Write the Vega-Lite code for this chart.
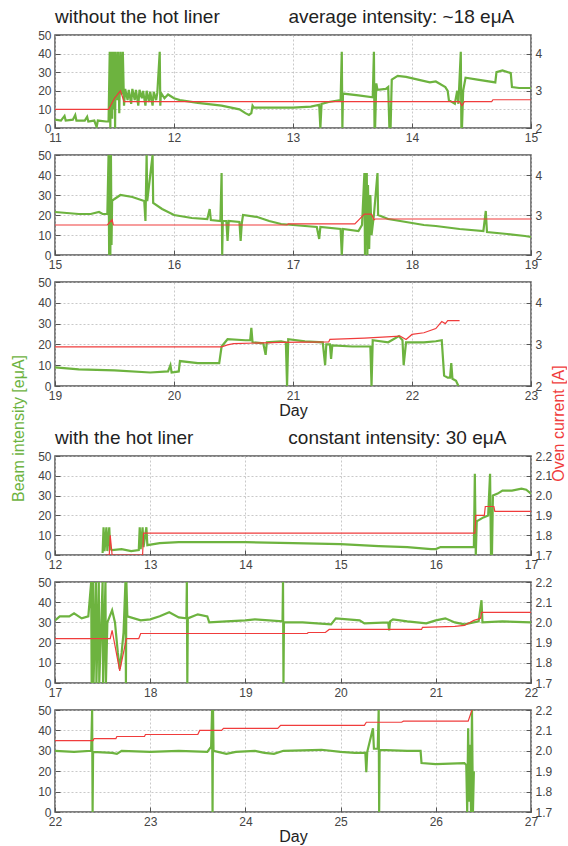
{
  "$schema": "https://vega.github.io/schema/vega-lite/v6.json",
  "padding": {"left": 9, "top": 7, "right": 0, "bottom": 0},
  "spacing": 27,
  "bounds": "flush",
  "datasets": {
    "g1": [{"day":11.0,"v":4.5},{"day":11.05,"v":4},{"day":11.08,"v":6.5},{"day":11.09,"v":4},{"day":11.15,"v":4.5},{"day":11.17,"v":7},{"day":11.18,"v":4},{"day":11.25,"v":4},{"day":11.27,"v":6},{"day":11.28,"v":3.5},{"day":11.33,"v":4},{"day":11.35,"v":0.5},{"day":11.36,"v":4},{"day":11.43,"v":3.5},{"day":11.45,"v":3.5},{"day":11.46,"v":41},{"day":11.465,"v":0},{"day":11.47,"v":41},{"day":11.48,"v":5},{"day":11.485,"v":41},{"day":11.49,"v":10},{"day":11.5,"v":41},{"day":11.505,"v":0},{"day":11.51,"v":41},{"day":11.52,"v":15},{"day":11.53,"v":41},{"day":11.54,"v":8},{"day":11.55,"v":41},{"day":11.56,"v":18},{"day":11.57,"v":41},{"day":11.58,"v":12},{"day":11.59,"v":21},{"day":11.61,"v":15},{"day":11.62,"v":20.5},{"day":11.64,"v":13},{"day":11.65,"v":21},{"day":11.67,"v":15},{"day":11.68,"v":20.5},{"day":11.7,"v":12},{"day":11.71,"v":20.5},{"day":11.73,"v":16},{"day":11.74,"v":20},{"day":11.76,"v":12},{"day":11.77,"v":20},{"day":11.79,"v":14},{"day":11.8,"v":19.5},{"day":11.82,"v":12},{"day":11.83,"v":19.5},{"day":11.85,"v":15},{"day":11.86,"v":19},{"day":11.88,"v":41},{"day":11.885,"v":12},{"day":11.89,"v":19},{"day":11.92,"v":16},{"day":11.95,"v":18},{"day":12.0,"v":16},{"day":12.05,"v":15},{"day":12.2,"v":13.5},{"day":12.4,"v":12},{"day":12.55,"v":10},{"day":12.6,"v":8},{"day":12.63,"v":7},{"day":12.65,"v":8},{"day":12.66,"v":12},{"day":12.67,"v":11},{"day":12.8,"v":11},{"day":13.0,"v":11},{"day":13.15,"v":11.5},{"day":13.22,"v":12.5},{"day":13.23,"v":0},{"day":13.24,"v":13},{"day":13.3,"v":14},{"day":13.4,"v":15},{"day":13.41,"v":41},{"day":13.415,"v":0},{"day":13.42,"v":18.5},{"day":13.55,"v":17.5},{"day":13.67,"v":16.5},{"day":13.68,"v":41},{"day":13.685,"v":0},{"day":13.69,"v":0},{"day":13.7,"v":24},{"day":13.71,"v":20.5},{"day":13.78,"v":21},{"day":13.8,"v":22},{"day":13.81,"v":0},{"day":13.82,"v":0},{"day":13.83,"v":26},{"day":13.88,"v":28},{"day":13.95,"v":27.5},{"day":14.05,"v":26},{"day":14.15,"v":24.5},{"day":14.2,"v":25},{"day":14.28,"v":22},{"day":14.3,"v":20},{"day":14.31,"v":15},{"day":14.36,"v":13},{"day":14.38,"v":20},{"day":14.39,"v":13},{"day":14.41,"v":41},{"day":14.415,"v":0},{"day":14.42,"v":0},{"day":14.43,"v":20},{"day":14.45,"v":27},{"day":14.55,"v":26},{"day":14.7,"v":24.5},{"day":14.71,"v":30},{"day":14.76,"v":31},{"day":14.83,"v":29.5},{"day":14.84,"v":22},{"day":14.9,"v":21.5},{"day":15.0,"v":21.5}],
    "r1": [{"day":11,"v":2.5},{"day":11.45,"v":2.5},{"day":11.5,"v":2.8},{"day":11.55,"v":3.0},{"day":11.58,"v":2.71},{"day":14.4,"v":2.71},{"day":14.42,"v":2.6},{"day":14.44,"v":2.71},{"day":14.67,"v":2.71},{"day":14.68,"v":2.76},{"day":15,"v":2.76}],
    "g2": [{"day":15.0,"v":21.5},{"day":15.1,"v":21},{"day":15.2,"v":20.5},{"day":15.3,"v":20.5},{"day":15.37,"v":21.5},{"day":15.4,"v":20.5},{"day":15.44,"v":20.5},{"day":15.45,"v":50},{"day":15.455,"v":0},{"day":15.46,"v":50},{"day":15.465,"v":0},{"day":15.47,"v":50},{"day":15.475,"v":5},{"day":15.48,"v":27},{"day":15.5,"v":28},{"day":15.55,"v":30},{"day":15.65,"v":29},{"day":15.75,"v":27},{"day":15.76,"v":17},{"day":15.77,"v":50},{"day":15.775,"v":27},{"day":15.82,"v":50},{"day":15.825,"v":26},{"day":15.9,"v":23},{"day":16.0,"v":20},{"day":16.15,"v":18.5},{"day":16.28,"v":18},{"day":16.3,"v":23},{"day":16.31,"v":17.5},{"day":16.39,"v":17},{"day":16.4,"v":41},{"day":16.405,"v":0},{"day":16.41,"v":17},{"day":16.44,"v":17},{"day":16.45,"v":7},{"day":16.46,"v":17},{"day":16.55,"v":16.5},{"day":16.56,"v":7},{"day":16.57,"v":16},{"day":16.58,"v":20},{"day":16.7,"v":19},{"day":16.8,"v":17},{"day":16.9,"v":15.5},{"day":17.0,"v":15},{"day":17.2,"v":14},{"day":17.22,"v":8},{"day":17.23,"v":14},{"day":17.4,"v":13},{"day":17.41,"v":0},{"day":17.42,"v":13},{"day":17.55,"v":12},{"day":17.58,"v":15},{"day":17.6,"v":41},{"day":17.605,"v":0},{"day":17.61,"v":41},{"day":17.615,"v":5},{"day":17.62,"v":41},{"day":17.625,"v":0},{"day":17.63,"v":35},{"day":17.64,"v":3},{"day":17.65,"v":30},{"day":17.66,"v":10},{"day":17.68,"v":20},{"day":17.71,"v":41},{"day":17.715,"v":20},{"day":17.8,"v":18},{"day":17.9,"v":17},{"day":18.0,"v":16},{"day":18.1,"v":15},{"day":18.2,"v":14.5},{"day":18.4,"v":13},{"day":18.6,"v":12},{"day":18.62,"v":22},{"day":18.63,"v":11.5},{"day":18.8,"v":10.5},{"day":18.95,"v":9.5},{"day":19.0,"v":9}],
    "r2": [{"day":15,"v":2.75},{"day":15.44,"v":2.75},{"day":15.48,"v":2.88},{"day":15.49,"v":2.75},{"day":16.95,"v":2.75},{"day":16.96,"v":2.78},{"day":17.52,"v":2.78},{"day":17.6,"v":3.02},{"day":17.66,"v":3.02},{"day":17.68,"v":2.88},{"day":17.69,"v":2.9},{"day":19,"v":2.9}],
    "g3": [{"day":19.0,"v":9},{"day":19.2,"v":8},{"day":19.5,"v":7.5},{"day":19.8,"v":6.5},{"day":19.95,"v":7},{"day":19.97,"v":10},{"day":19.98,"v":6.5},{"day":20.04,"v":7},{"day":20.05,"v":12},{"day":20.2,"v":11},{"day":20.38,"v":11},{"day":20.4,"v":19},{"day":20.45,"v":22.5},{"day":20.6,"v":22},{"day":20.64,"v":22},{"day":20.65,"v":28},{"day":20.66,"v":21},{"day":20.75,"v":20.5},{"day":20.77,"v":15},{"day":20.78,"v":21},{"day":20.9,"v":21.5},{"day":20.94,"v":21},{"day":20.95,"v":0},{"day":20.96,"v":22.5},{"day":21.1,"v":21.5},{"day":21.25,"v":21},{"day":21.27,"v":10},{"day":21.28,"v":20},{"day":21.31,"v":20},{"day":21.32,"v":13},{"day":21.33,"v":19.5},{"day":21.5,"v":19},{"day":21.65,"v":19},{"day":21.66,"v":0},{"day":21.67,"v":22},{"day":21.8,"v":21},{"day":21.89,"v":24},{"day":21.92,"v":22},{"day":21.93,"v":10},{"day":21.95,"v":21},{"day":22.1,"v":21},{"day":22.2,"v":21.5},{"day":22.25,"v":22},{"day":22.27,"v":5},{"day":22.3,"v":4},{"day":22.32,"v":4},{"day":22.33,"v":11},{"day":22.34,"v":3.5},{"day":22.37,"v":2.5},{"day":22.39,"v":0}],
    "r3": [{"day":19,"v":2.94},{"day":20.4,"v":2.94},{"day":20.45,"v":2.99},{"day":20.5,"v":3.02},{"day":20.9,"v":3.05},{"day":21.3,"v":3.06},{"day":21.31,"v":3.12},{"day":21.6,"v":3.15},{"day":21.9,"v":3.2},{"day":21.95,"v":3.12},{"day":22.0,"v":3.24},{"day":22.1,"v":3.28},{"day":22.2,"v":3.38},{"day":22.25,"v":3.55},{"day":22.28,"v":3.5},{"day":22.3,"v":3.57},{"day":22.4,"v":3.57}],
    "g4": [{"day":12.5,"v":1},{"day":12.51,"v":14},{"day":12.52,"v":2},{"day":12.54,"v":14},{"day":12.55,"v":2},{"day":12.57,"v":14},{"day":12.58,"v":3},{"day":12.6,"v":2.5},{"day":12.7,"v":3},{"day":12.8,"v":2},{"day":12.88,"v":2.5},{"day":12.89,"v":14},{"day":12.9,"v":3},{"day":12.92,"v":14},{"day":12.93,"v":4},{"day":12.96,"v":14},{"day":12.97,"v":5},{"day":13.1,"v":6},{"day":13.3,"v":6.5},{"day":13.6,"v":6.5},{"day":14.0,"v":6.5},{"day":14.5,"v":6},{"day":15.0,"v":5.5},{"day":15.2,"v":5},{"day":15.4,"v":4.5},{"day":15.7,"v":4},{"day":15.95,"v":3},{"day":16.0,"v":3},{"day":16.05,"v":4},{"day":16.4,"v":4},{"day":16.41,"v":41},{"day":16.42,"v":0},{"day":16.43,"v":17},{"day":16.5,"v":19},{"day":16.55,"v":20},{"day":16.57,"v":41},{"day":16.58,"v":0},{"day":16.59,"v":0},{"day":16.6,"v":30},{"day":16.65,"v":31},{"day":16.7,"v":32.5},{"day":16.8,"v":32.5},{"day":16.9,"v":33.5},{"day":16.95,"v":33},{"day":17.0,"v":31}],
    "r4": [{"day":12.53,"v":1.7},{"day":12.57,"v":1.7},{"day":12.58,"v":1.8},{"day":12.6,"v":1.7},{"day":12.92,"v":1.7},{"day":12.93,"v":1.81},{"day":16.41,"v":1.81},{"day":16.42,"v":1.9},{"day":16.51,"v":1.9},{"day":16.52,"v":1.945},{"day":16.61,"v":1.945},{"day":16.62,"v":1.92},{"day":17,"v":1.92}],
    "g5": [{"day":17.0,"v":31},{"day":17.05,"v":33},{"day":17.15,"v":33},{"day":17.2,"v":34.5},{"day":17.28,"v":32},{"day":17.35,"v":33},{"day":17.38,"v":50},{"day":17.385,"v":0},{"day":17.4,"v":50},{"day":17.405,"v":0},{"day":17.43,"v":50},{"day":17.435,"v":0},{"day":17.46,"v":50},{"day":17.465,"v":0},{"day":17.5,"v":50},{"day":17.505,"v":0},{"day":17.53,"v":50},{"day":17.535,"v":0},{"day":17.55,"v":30},{"day":17.6,"v":36},{"day":17.63,"v":30},{"day":17.66,"v":15},{"day":17.68,"v":7},{"day":17.7,"v":15},{"day":17.72,"v":25},{"day":17.74,"v":50},{"day":17.745,"v":0},{"day":17.75,"v":50},{"day":17.76,"v":33},{"day":17.9,"v":31},{"day":18.0,"v":31.5},{"day":18.1,"v":33},{"day":18.2,"v":35},{"day":18.3,"v":32.5},{"day":18.38,"v":32},{"day":18.385,"v":50},{"day":18.39,"v":0},{"day":18.395,"v":32},{"day":18.5,"v":34},{"day":18.6,"v":33},{"day":18.62,"v":30},{"day":18.8,"v":30.5},{"day":19.0,"v":31},{"day":19.1,"v":31.5},{"day":19.39,"v":30.5},{"day":19.395,"v":50},{"day":19.4,"v":0},{"day":19.405,"v":30},{"day":19.6,"v":30},{"day":19.9,"v":29},{"day":19.95,"v":32},{"day":20.2,"v":31},{"day":20.25,"v":29.5},{"day":20.5,"v":30},{"day":20.51,"v":26},{"day":20.52,"v":30.5},{"day":20.55,"v":31.5},{"day":20.7,"v":30.5},{"day":20.9,"v":29.5},{"day":21.0,"v":31},{"day":21.1,"v":32},{"day":21.2,"v":30},{"day":21.3,"v":29},{"day":21.45,"v":30.5},{"day":21.48,"v":41},{"day":21.49,"v":30},{"day":21.7,"v":30.5},{"day":22.0,"v":30}],
    "r5": [{"day":17,"v":1.92},{"day":17.58,"v":1.92},{"day":17.6,"v":1.96},{"day":17.68,"v":1.76},{"day":17.75,"v":1.92},{"day":17.88,"v":1.92},{"day":17.9,"v":1.945},{"day":19.65,"v":1.945},{"day":19.66,"v":1.95},{"day":19.84,"v":1.95},{"day":19.88,"v":1.965},{"day":20.85,"v":1.965},{"day":20.86,"v":1.975},{"day":21.2,"v":1.98},{"day":21.3,"v":1.985},{"day":21.4,"v":2.01},{"day":21.47,"v":2.02},{"day":21.48,"v":2.05},{"day":22,"v":2.05}],
    "g6": [{"day":22.0,"v":30},{"day":22.2,"v":29.5},{"day":22.38,"v":30},{"day":22.39,"v":50},{"day":22.395,"v":0},{"day":22.4,"v":29.5},{"day":22.6,"v":29},{"day":22.65,"v":28.5},{"day":22.7,"v":30},{"day":23.0,"v":29.5},{"day":23.3,"v":30},{"day":23.6,"v":29.5},{"day":23.64,"v":32},{"day":23.65,"v":50},{"day":23.655,"v":0},{"day":23.66,"v":50},{"day":23.665,"v":30},{"day":23.8,"v":28.5},{"day":23.9,"v":29.5},{"day":24.1,"v":30},{"day":24.2,"v":29},{"day":24.3,"v":28.5},{"day":24.4,"v":30},{"day":24.8,"v":30.5},{"day":25.0,"v":29.5},{"day":25.15,"v":29},{"day":25.26,"v":29},{"day":25.27,"v":19.5},{"day":25.28,"v":29.5},{"day":25.34,"v":41},{"day":25.35,"v":31},{"day":25.39,"v":31},{"day":25.4,"v":50},{"day":25.405,"v":0},{"day":25.41,"v":30.5},{"day":25.7,"v":30},{"day":25.84,"v":30},{"day":25.85,"v":24},{"day":26.0,"v":23.5},{"day":26.3,"v":24},{"day":26.32,"v":23},{"day":26.33,"v":0},{"day":26.34,"v":41},{"day":26.35,"v":5},{"day":26.36,"v":33},{"day":26.37,"v":0},{"day":26.38,"v":50},{"day":26.39,"v":0},{"day":26.4,"v":20}],
    "r6": [{"day":22,"v":2.05},{"day":22.4,"v":2.05},{"day":22.41,"v":2.06},{"day":22.64,"v":2.06},{"day":22.65,"v":2.07},{"day":22.94,"v":2.07},{"day":22.95,"v":2.08},{"day":23.5,"v":2.08},{"day":23.52,"v":2.1},{"day":23.75,"v":2.1},{"day":23.77,"v":2.11},{"day":24.34,"v":2.11},{"day":24.37,"v":2.125},{"day":25.25,"v":2.125},{"day":25.27,"v":2.14},{"day":25.64,"v":2.14},{"day":25.66,"v":2.145},{"day":26.34,"v":2.145},{"day":26.38,"v":2.2}]
  },
  "vconcat": [
    {"width": 476, "height": 93,
     "title": {"text": "without the hot liner\u00a0\u00a0\u00a0\u00a0\u00a0\u00a0\u00a0\u00a0\u00a0\u00a0\u00a0\u00a0\u00a0average intensity: ~18 eμA"},
     "layer": [
      {"data": {"name": "g1"}, "mark": {"type": "line", "color": "#6db33f", "strokeWidth": 2.2, "clip": true},
       "encoding": {"x": {"field": "day", "type": "quantitative", "scale": {"domain": [11, 15], "nice": false, "zero": false}, "axis": {"values": [11, 12, 13, 14, 15], "title": null}},
                    "y": {"field": "v", "type": "quantitative", "scale": {"domain": [0, 50], "nice": false}, "axis": {"orient": "left", "values": [0, 10, 20, 30, 40, 50], "title": null}}}},
      {"data": {"name": "r1"}, "mark": {"type": "line", "color": "#f03c3c", "strokeWidth": 1.2, "clip": true},
       "encoding": {"x": {"field": "day", "type": "quantitative"},
                    "y": {"field": "v", "type": "quantitative", "scale": {"domain": [2, 4.5], "nice": false, "zero": false}, "axis": {"orient": "right", "values": [2, 3, 4], "grid": false, "title": null}}}}
     ],
     "resolve": {"scale": {"y": "independent"}}},
    {"width": 476, "height": 100,
     "layer": [
      {"data": {"name": "g2"}, "mark": {"type": "line", "color": "#6db33f", "strokeWidth": 2.2, "clip": true},
       "encoding": {"x": {"field": "day", "type": "quantitative", "scale": {"domain": [15, 19], "nice": false, "zero": false}, "axis": {"values": [15, 16, 17, 18, 19], "title": null}},
                    "y": {"field": "v", "type": "quantitative", "scale": {"domain": [0, 50], "nice": false}, "axis": {"orient": "left", "values": [0, 10, 20, 30, 40, 50], "title": null}}}},
      {"data": {"name": "r2"}, "mark": {"type": "line", "color": "#f03c3c", "strokeWidth": 1.2, "clip": true},
       "encoding": {"x": {"field": "day", "type": "quantitative"},
                    "y": {"field": "v", "type": "quantitative", "scale": {"domain": [2, 4.5], "nice": false, "zero": false}, "axis": {"orient": "right", "values": [2, 3, 4], "grid": false, "title": null}}}}
     ],
     "resolve": {"scale": {"y": "independent"}}},
    {"width": 476, "height": 104,
     "layer": [
      {"data": {"name": "g3"}, "mark": {"type": "line", "color": "#6db33f", "strokeWidth": 2.2, "clip": true},
       "encoding": {"x": {"field": "day", "type": "quantitative", "scale": {"domain": [19, 23], "nice": false, "zero": false}, "axis": {"values": [19, 20, 21, 22, 23], "title": "Day"}},
                    "y": {"field": "v", "type": "quantitative", "scale": {"domain": [0, 50], "nice": false}, "axis": {"orient": "left", "values": [0, 10, 20, 30, 40, 50], "title": "Beam intensity [eμA]", "titleColor": "#6db33f", "titleFontSize": 16, "titleX": -37, "titleY": 146, "titleBaseline": "middle", "titleAngle": -90}}}},
      {"data": {"name": "r3"}, "mark": {"type": "line", "color": "#f03c3c", "strokeWidth": 1.2, "clip": true},
       "encoding": {"x": {"field": "day", "type": "quantitative"},
                    "y": {"field": "v", "type": "quantitative", "scale": {"domain": [2, 4.5], "nice": false, "zero": false}, "axis": {"orient": "right", "values": [2, 3, 4], "grid": false, "title": "Oven current [A]", "titleColor": "#f03c3c", "titleFontSize": 16, "titleX": 27, "titleY": 141, "titleBaseline": "middle", "titleAngle": -90}}}}
     ],
     "resolve": {"scale": {"y": "independent"}}},
    {"width": 476, "height": 16, "data": {"values": []}, "mark": "point", "view": {"stroke": null}},
    {"width": 476, "height": 99,
     "title": {"text": "with the hot liner\u00a0\u00a0\u00a0\u00a0\u00a0\u00a0\u00a0\u00a0\u00a0\u00a0\u00a0\u00a0\u00a0\u00a0\u00a0\u00a0\u00a0\u00a0constant intensity: 30 eμA"},
     "layer": [
      {"data": {"name": "g4"}, "mark": {"type": "line", "color": "#6db33f", "strokeWidth": 2.2, "clip": true},
       "encoding": {"x": {"field": "day", "type": "quantitative", "scale": {"domain": [12, 17], "nice": false, "zero": false}, "axis": {"values": [12, 13, 14, 15, 16, 17], "title": null}},
                    "y": {"field": "v", "type": "quantitative", "scale": {"domain": [0, 50], "nice": false}, "axis": {"orient": "left", "values": [0, 10, 20, 30, 40, 50], "title": null}}}},
      {"data": {"name": "r4"}, "mark": {"type": "line", "color": "#f03c3c", "strokeWidth": 1.2, "clip": true},
       "encoding": {"x": {"field": "day", "type": "quantitative"},
                    "y": {"field": "v", "type": "quantitative", "scale": {"domain": [1.7, 2.2], "nice": false, "zero": false}, "axis": {"orient": "right", "values": [1.7, 1.8, 1.9, 2.0, 2.1, 2.2], "format": ".1f", "grid": false, "title": null}}}}
     ],
     "resolve": {"scale": {"y": "independent"}}},
    {"width": 476, "height": 101,
     "layer": [
      {"data": {"name": "g5"}, "mark": {"type": "line", "color": "#6db33f", "strokeWidth": 2.2, "clip": true},
       "encoding": {"x": {"field": "day", "type": "quantitative", "scale": {"domain": [17, 22], "nice": false, "zero": false}, "axis": {"values": [17, 18, 19, 20, 21, 22], "title": null}},
                    "y": {"field": "v", "type": "quantitative", "scale": {"domain": [0, 50], "nice": false}, "axis": {"orient": "left", "values": [0, 10, 20, 30, 40, 50], "title": null}}}},
      {"data": {"name": "r5"}, "mark": {"type": "line", "color": "#f03c3c", "strokeWidth": 1.2, "clip": true},
       "encoding": {"x": {"field": "day", "type": "quantitative"},
                    "y": {"field": "v", "type": "quantitative", "scale": {"domain": [1.7, 2.2], "nice": false, "zero": false}, "axis": {"orient": "right", "values": [1.7, 1.8, 1.9, 2.0, 2.1, 2.2], "format": ".1f", "grid": false, "title": null}}}}
     ],
     "resolve": {"scale": {"y": "independent"}}},
    {"width": 476, "height": 102,
     "layer": [
      {"data": {"name": "g6"}, "mark": {"type": "line", "color": "#6db33f", "strokeWidth": 2.2, "clip": true},
       "encoding": {"x": {"field": "day", "type": "quantitative", "scale": {"domain": [22, 27], "nice": false, "zero": false}, "axis": {"values": [22, 23, 24, 25, 26, 27], "title": "Day"}},
                    "y": {"field": "v", "type": "quantitative", "scale": {"domain": [0, 50], "nice": false}, "axis": {"orient": "left", "values": [0, 10, 20, 30, 40, 50], "title": null}}}},
      {"data": {"name": "r6"}, "mark": {"type": "line", "color": "#f03c3c", "strokeWidth": 1.2, "clip": true},
       "encoding": {"x": {"field": "day", "type": "quantitative"},
                    "y": {"field": "v", "type": "quantitative", "scale": {"domain": [1.7, 2.2], "nice": false, "zero": false}, "axis": {"orient": "right", "values": [1.7, 1.8, 1.9, 2.0, 2.1, 2.2], "format": ".1f", "grid": false, "title": null}}}}
     ],
     "resolve": {"scale": {"y": "independent"}}}
  ],
  "config": {
    "font": "Liberation Sans",
    "background": "white",
    "view": {"stroke": "#555555", "strokeWidth": 1.5},
    "title": {"font": "Liberation Sans", "fontSize": 19, "fontWeight": "normal", "color": "#222222", "anchor": "start", "frame": "group", "offset": 2},
    "axis": {"domain": false, "labelFont": "Liberation Sans", "labelFontSize": 12, "labelColor": "#444444", "tickColor": "#555555", "tickSize": -5, "labelPadding": 9, "grid": true, "gridColor": "#bbbbbb", "gridDash": [2, 2], "gridWidth": 0.8, "titleFont": "Liberation Sans", "titleFontWeight": "normal", "titleFontSize": 16, "titleColor": "#222222", "titlePadding": 1},
    "axisX": {"labelFlush": false, "format": "d"}
  }
}
